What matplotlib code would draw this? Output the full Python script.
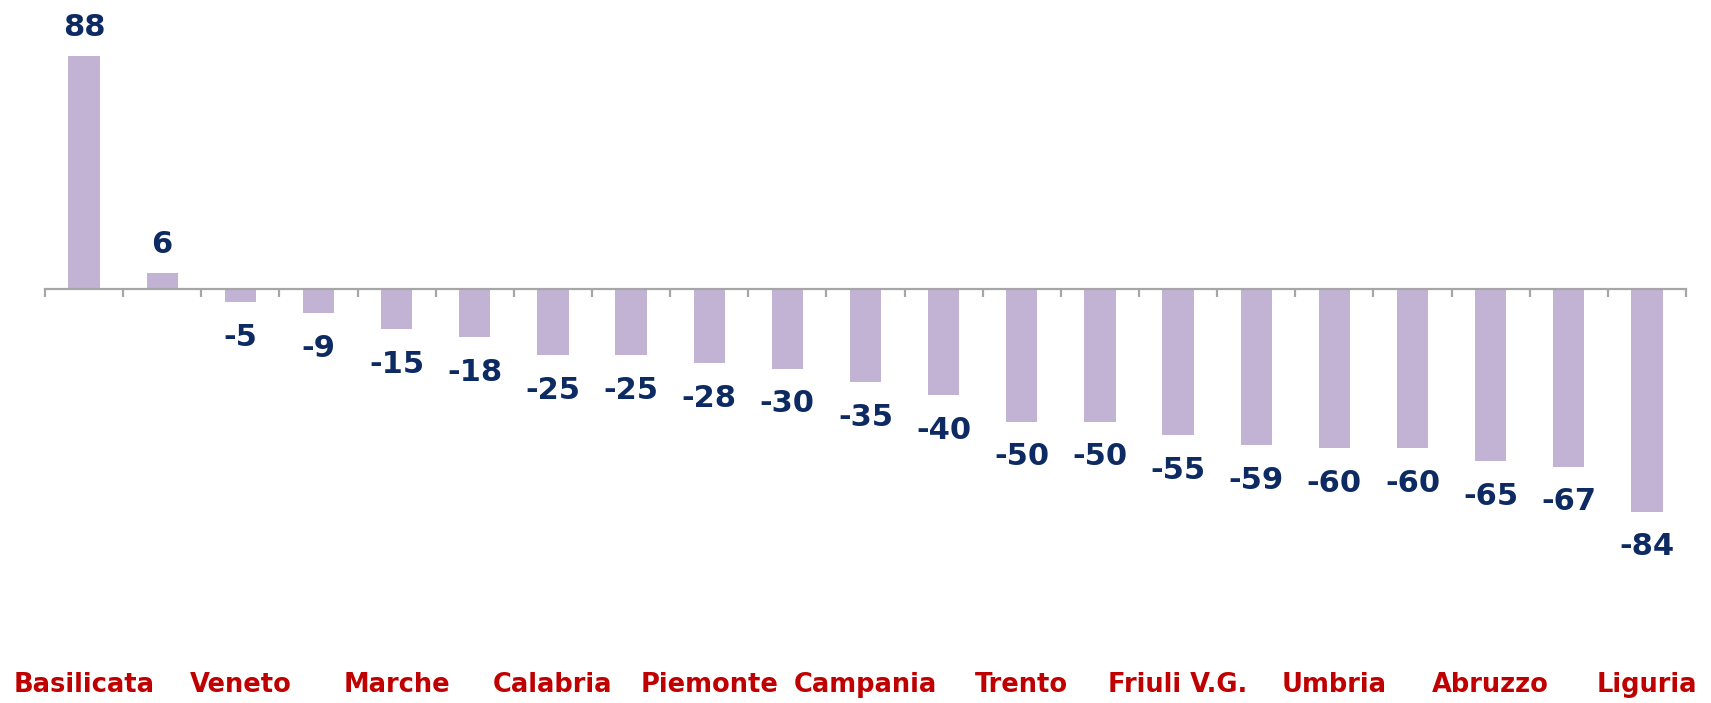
import matplotlib
matplotlib.use("Agg")
import matplotlib.pyplot as plt
from matplotlib.transforms import blended_transform_factory

# dati
values = [88, 6, -5, -9, -15, -18, -25, -25, -28, -30, -35,
          -40, -50, -50, -55, -59, -60, -60, -65, -67, -84]
# solo una etichetta ogni due barre e' visibile nel grafico
labels = ["Basilicata", "", "Veneto", "", "Marche", "", "Calabria", "",
          "Piemonte", "", "Campania", "", "Trento", "", "Friuli V.G.", "",
          "Umbria", "", "Abruzzo", "", "Liguria"]

bar_color = "#C2B3D5"
num_color = "#0D2B62"
cat_color = "#C00000"

W, H = 1711, 703
fig = plt.figure(figsize=(W / 100, H / 100), dpi=100)
ax = fig.add_axes([45 / W, (H - 607) / H, 1641 / W, 583 / H])

x = range(len(values))
ax.bar(x, values, width=0.4, color=bar_color, linewidth=0, zorder=2)

ax.set_xlim(-0.5, len(values) - 0.5)
ax.set_ylim(-120, 100)

# asse orizzontale sullo zero con tacche tra le barre
for s in ["top", "right", "left"]:
    ax.spines[s].set_visible(False)
ax.spines["bottom"].set_position(("data", 0))
ax.spines["bottom"].set_color("#A6A6A6")
ax.spines["bottom"].set_linewidth(1.6)
ax.set_xticks([i - 0.5 for i in range(len(values) + 1)])
ax.set_xticklabels([])
ax.tick_params(axis="x", length=6, width=1.6, color="#A6A6A6")
ax.set_yticks([])

# valori sopra/sotto le barre
for i, v in enumerate(values):
    if v >= 0:
        ax.annotate(str(v), (i, v), xytext=(0, 10), textcoords="offset points",
                    ha="center", va="bottom", fontsize=22, fontweight="bold",
                    color=num_color)
    else:
        ax.annotate(str(v), (i, v), xytext=(0, -15), textcoords="offset points",
                    ha="center", va="top", fontsize=22, fontweight="bold",
                    color=num_color)

# nomi delle regioni in basso
tr = blended_transform_factory(ax.transData, fig.transFigure)
for i, lab in enumerate(labels):
    if lab:
        ax.text(i, 1 - 685 / H, lab, transform=tr, ha="center", va="center",
                fontsize=18.5, fontweight="bold", color=cat_color)

fig.savefig("out.png", dpi=100)
